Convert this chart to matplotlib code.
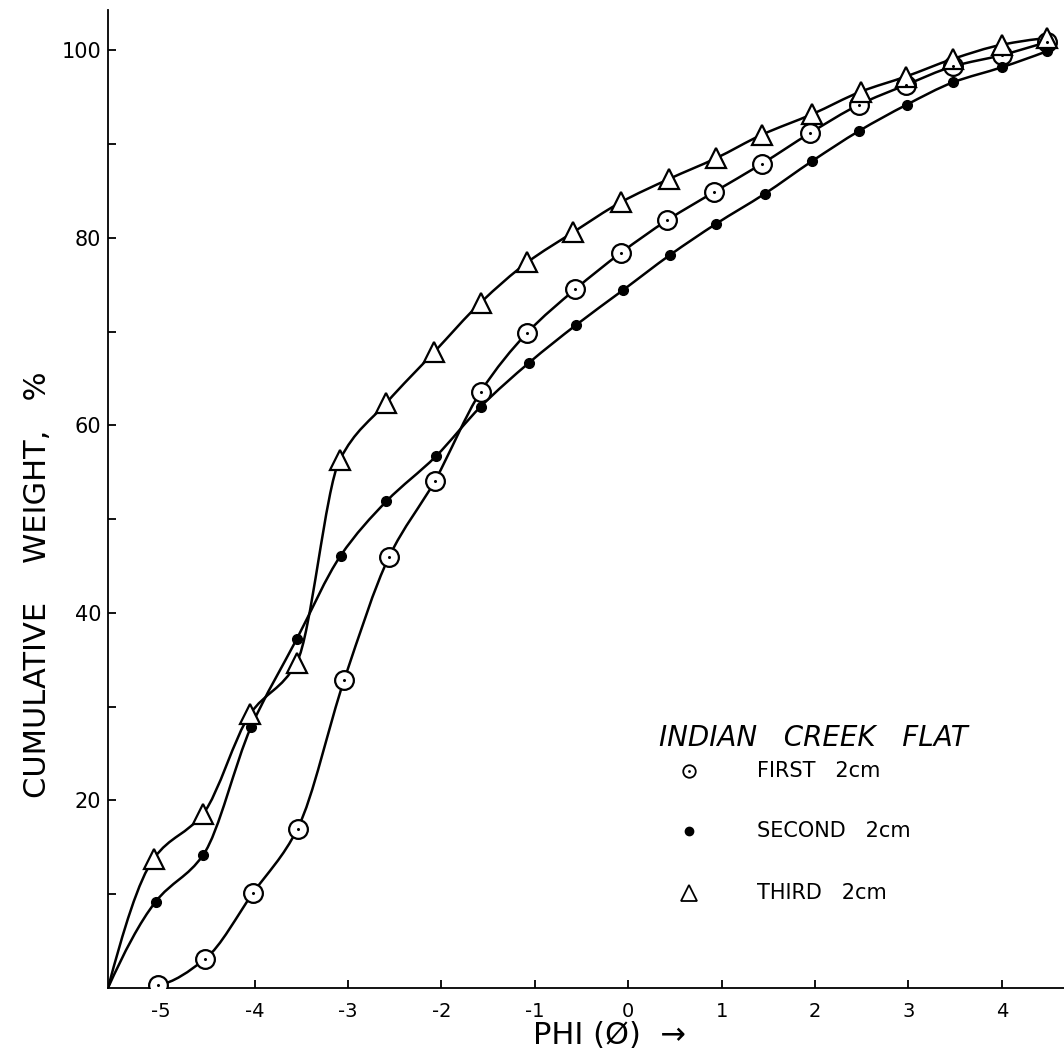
import numpy as np
import matplotlib
matplotlib.use("Agg")
import matplotlib.pyplot as plt
from matplotlib.path import Path
from matplotlib.patches import PathPatch
from matplotlib.ticker import FixedLocator, FixedFormatter

# values
x_first = [-5.04, -4.53, -4.02, -3.54, -3.04, -2.56, -2.07, -1.58, -1.08, -0.57,
           -0.08, 0.42, 0.92, 1.43, 1.95, 2.47, 2.97, 3.48, 4.00, 4.48]
y_first = [0.3, 3.1, 10.1, 17.0, 32.9, 46.0, 54.1, 63.6, 69.9, 74.5,
           78.4, 81.9, 84.9, 87.9, 91.2, 94.2, 96.3, 98.3, 99.5, 100.9]

x_second = [-5.57, -5.06, -4.55, -4.04, -3.55, -3.08, -2.59, -2.06, -1.58, -1.06, -0.56,
            -0.06, 0.45, 0.94, 1.46, 1.97, 2.47, 2.98, 3.48, 4.00, 4.48]
y_second = [0.0, 9.2, 14.2, 27.8, 37.2, 46.1, 51.9, 56.7, 62.0, 66.7, 70.7,
            74.4, 78.2, 81.5, 84.7, 88.2, 91.4, 94.2, 96.6, 98.2, 99.9]

x_third = [-5.57, -5.08, -4.55, -4.05, -3.55, -3.09, -2.59, -2.08, -1.58, -1.08, -0.59,
           -0.08, 0.44, 0.94, 1.43, 1.97, 2.49, 2.97, 3.48, 4.00, 4.48]
y_third = [0.0, 13.8, 18.6, 29.2, 34.7, 56.3, 62.4, 67.8, 73.1, 77.4, 80.6,
           83.8, 86.3, 88.5, 91.0, 93.2, 95.6, 97.2, 99.1, 100.6, 101.3]

x_ticks = [-5, -4, -3, -2, -1, 0, 1, 2, 3, 4]
y_major = [20, 40, 60, 80, 100]
y_minor = [10, 30, 50, 70, 90]

legend_title = "INDIAN   CREEK   FLAT"
legend_labels = ["FIRST   2cm", "SECOND   2cm", "THIRD   2cm"]


def pchip_slopes(x, y):
    x = np.asarray(x, float)
    y = np.asarray(y, float)
    h = np.diff(x)
    d = np.diff(y) / h
    n = len(x)
    m = np.zeros(n)
    for k in range(1, n - 1):
        if d[k - 1] * d[k] > 0:
            w1 = 2 * h[k] + h[k - 1]
            w2 = h[k] + 2 * h[k - 1]
            m[k] = (w1 + w2) / (w1 / d[k - 1] + w2 / d[k])
    m0 = ((2 * h[0] + h[1]) * d[0] - h[0] * d[1]) / (h[0] + h[1])
    if np.sign(m0) != np.sign(d[0]):
        m0 = 0
    elif np.sign(d[0]) != np.sign(d[1]) and abs(m0) > 3 * abs(d[0]):
        m0 = 3 * d[0]
    m[0] = m0
    mn = ((2 * h[-1] + h[-2]) * d[-1] - h[-1] * d[-2]) / (h[-1] + h[-2])
    if np.sign(mn) != np.sign(d[-1]):
        mn = 0
    elif np.sign(d[-1]) != np.sign(d[-2]) and abs(mn) > 3 * abs(d[-1]):
        mn = 3 * d[-1]
    m[-1] = mn
    return m


def smooth_curve(ax, x, y, lw=1.8):
    # cubic hermite segments drawn as bezier curves in data space
    m = pchip_slopes(x, y)
    verts = [(x[0], y[0])]
    codes = [Path.MOVETO]
    for i in range(len(x) - 1):
        h = x[i + 1] - x[i]
        verts += [(x[i] + h / 3, y[i] + m[i] * h / 3),
                  (x[i + 1] - h / 3, y[i + 1] - m[i + 1] * h / 3),
                  (x[i + 1], y[i + 1])]
        codes += [Path.CURVE4] * 3
    ax.add_patch(PathPatch(Path(verts, codes), fill=False, lw=lw,
                           edgecolor="black", zorder=2, capstyle="round"))


fig = plt.figure(figsize=(10.64, 10.57), dpi=100)
ax = fig.add_axes([0.1015, 0.0653, 0.8985, 0.9252])
ax.set_xlim(-5.57, 4.665)
ax.set_ylim(0, 104.3)

smooth_curve(ax, x_first, y_first)
smooth_curve(ax, x_second, y_second)
smooth_curve(ax, x_third, y_third)

ax.plot(x_first, y_first, ls="none", marker="o", ms=13.5, mfc="white", mec="black",
        mew=1.6, zorder=3)
ax.plot(x_first, y_first, ls="none", marker="o", ms=1.2, color="black", zorder=4)
ax.plot(x_second[1:], y_second[1:], ls="none", marker="o", ms=7, color="black", zorder=3)
ax.plot(x_third[1:], y_third[1:], ls="none", marker="^", ms=14.5, mfc="white", mec="black",
        mew=1.6, zorder=3)

for s in ["top", "right"]:
    ax.spines[s].set_visible(False)
for s in ["left", "bottom"]:
    ax.spines[s].set_linewidth(1.3)

ax.xaxis.set_major_locator(FixedLocator(x_ticks))
ax.xaxis.set_major_formatter(FixedFormatter([str(v) for v in x_ticks]))
ax.yaxis.set_major_locator(FixedLocator(y_major))
ax.yaxis.set_major_formatter(FixedFormatter([str(v) for v in y_major]))
ax.yaxis.set_minor_locator(FixedLocator(y_minor))
ax.tick_params(axis="x", which="both", direction="in", length=6, width=1.3,
               labelsize=14, pad=10)
ax.tick_params(axis="y", which="both", direction="in", length=6, width=1.3,
               labelsize=15, pad=5)

fig.text(38 / 1064, 1 - 585 / 1057, "CUMULATIVE    WEIGHT,   %", rotation=90,
         ha="center", va="center", fontsize=22)
fig.text(609 / 1064, 1 - 1035 / 1057, "PHI (Ø)  →", ha="center", va="center",
         fontsize=22)

# hand-drawn key
fig.text(813 / 1064, 1 - 738 / 1057, legend_title, ha="center", va="center",
         fontsize=20, style="italic")
key_y = [771, 831, 893]
key_style = [dict(marker="o", ms=9, mfc="white", mec="black", mew=1.3),
             dict(marker="o", ms=6, mfc="black", mec="black"),
             dict(marker="^", ms=12, mfc="white", mec="black", mew=1.3)]
for yy, lab, st in zip(key_y, legend_labels, key_style):
    fy = 1 - yy / 1057
    ax.plot([689 / 1064], [fy], transform=fig.transFigure, clip_on=False, ls="none", **st)
    fig.text(757 / 1064, fy, lab, ha="left", va="center", fontsize=15)
ax.plot([689 / 1064], [1 - 771 / 1057], transform=fig.transFigure, clip_on=False,
        ls="none", marker="o", ms=1, color="black")

fig.savefig("out.png", dpi=100)
